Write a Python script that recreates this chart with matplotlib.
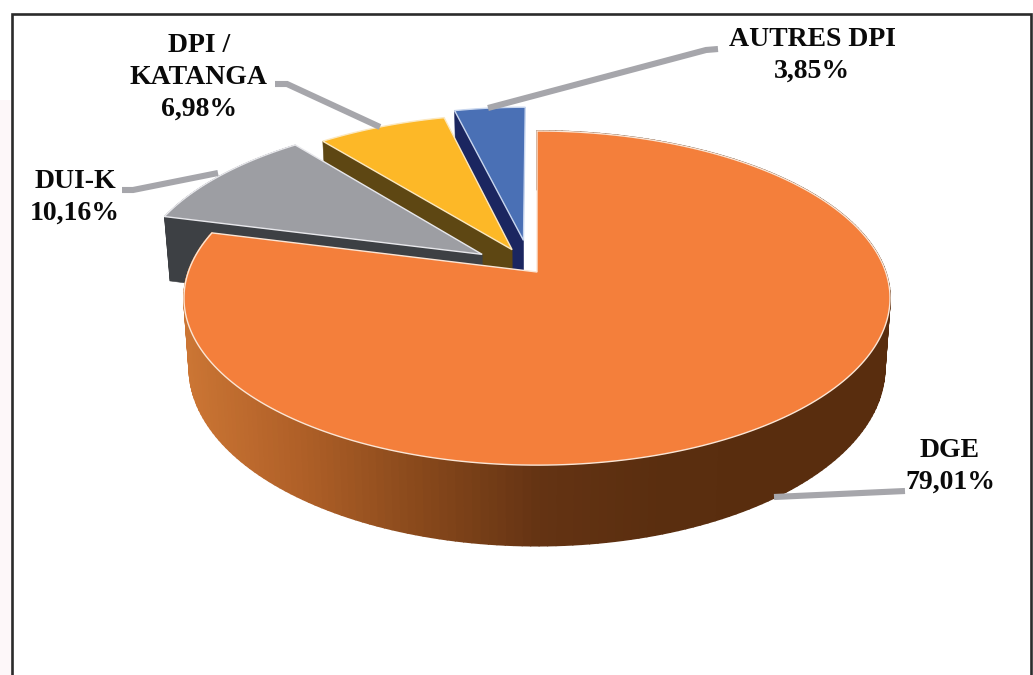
import numpy as np
import matplotlib.pyplot as plt
from matplotlib.collections import PolyCollection
from matplotlib.colors import LinearSegmentedColormap
from matplotlib.patches import Polygon

# data, clockwise from 12 o'clock
categories = ["DGE", "DUI-K", "DPI /\nKATANGA", "AUTRES DPI"]
shares = [79.01, 10.16, 6.98, 3.85]

top_colors = ["#F47F3B", "#9D9EA3", "#FDB827", "#4A70B5"]
wall_colors = ["#7A4318", "#3D4044", "#5E4713", "#1B2660"]
edge_colors = ["#FBE6D6", "#E8E8EC", "#FBE8C0", "#C8D6EE"]
# how far each slice is pulled out, in disc units (x, y)
pull = [(0.0, 0.0), (-0.16, 0.11), (-0.073, 0.14), (-0.04, 0.20)]

label_xy = [(950, 466), (75, 197), (199, 77), (812, 55)]
leaders = [
    [(774, 497), (905, 491)],
    [(122, 190), (133, 190), (218, 173)],
    [(275, 84), (287, 84), (380, 127)],
    [(718, 49), (706, 50), (488, 108)],
]

# perspective of the disc
CX, CY = 537, 272
A, B, K, DEPTH = 348.7, 163, 0.156, 68


def project(u, v, down=0.0):
    w = 1 + K * v
    x = CX + A * u / w * (1 - 0.015 * down)
    y = CY - B * v / w + DEPTH * down / w
    return x, y


def rim(t, off, down=0.0):
    return project(np.sin(t) + off[0], np.cos(t) + off[1], down)


fig = plt.figure(figsize=(10.33, 6.75), dpi=100)
ax = fig.add_axes([0, 0, 1, 1])
ax.set_xlim(0, 1033)
ax.set_ylim(675, 0)
ax.axis("off")

# faint pink paper outside the frame
ax.fill_between([0, 12], 100, 675, color="#FDF7F9", lw=0, zorder=0)
ax.plot([12, 12, 1031, 1031], [675, 14, 14, 675], color="#2B2B2B", lw=1.9,
        solid_joinstyle="miter", zorder=1)

edges = np.cumsum([0] + shares) / 100 * 2 * np.pi
wall_cmap = LinearSegmentedColormap.from_list(
    "wall", ["#CB7534", "#AE5F27", "#87481B", "#643313", "#5A2E0F", "#592D0E"]
)

# back slices first, the big one last so it covers their walls
for i in [3, 2, 1, 0]:
    t0, t1 = edges[i], edges[i + 1]
    off = pull[i]
    t = np.linspace(t0, t1, 240)
    xt, yt = rim(t, off)
    xb, yb = rim(t, off, 1.0)
    ax0, ay0 = project(off[0], off[1])
    ax1, ay1 = project(off[0], off[1], 1.0)

    quads = [[(xt[j], yt[j]), (xt[j + 1], yt[j + 1]), (xb[j + 1], yb[j + 1]), (xb[j], yb[j])]
             for j in range(len(t) - 1)]
    if i == 0:
        shade = wall_cmap(np.clip((xt[:-1] - 185) / 600, 0, 1))
        ax.add_collection(PolyCollection(quads, facecolors=shade, edgecolors=shade, lw=1.2, zorder=2))
    else:
        if i == 1:
            ax.add_collection(PolyCollection(quads, facecolors=wall_colors[i], edgecolors=wall_colors[i],
                                             lw=0.4, zorder=2))
        # radial side that faces the viewer
        ax.add_patch(Polygon([(ax0, ay0), (xt[0], yt[0]), (xb[0], yb[0]), (ax1, ay1)],
                             fc=wall_colors[i], ec=wall_colors[i], lw=0.4, zorder=2))
    top = np.column_stack([np.r_[ax0, xt], np.r_[ay0, yt]])
    ax.add_patch(Polygon(top, closed=True, fc=top_colors[i], ec=edge_colors[i], lw=1.0,
                         joinstyle="miter", zorder=2))

for pts in leaders:
    xs, ys = zip(*pts)
    ax.plot(xs, ys, color="#A6A6AB", lw=4.4, solid_capstyle="butt", solid_joinstyle="miter", zorder=3)

for name, val, (x, y) in zip(categories, shares, label_xy):
    txt = name + "\n" + f"{val:.2f}".replace(".", ",") + "%"
    ax.text(x, y, txt, ha="center", va="center", family="Liberation Serif", weight="bold",
            fontsize=20, color="#0A0A0A", linespacing=1.36, zorder=4)

fig.savefig("out.png", dpi=100)
plt.close(fig)
